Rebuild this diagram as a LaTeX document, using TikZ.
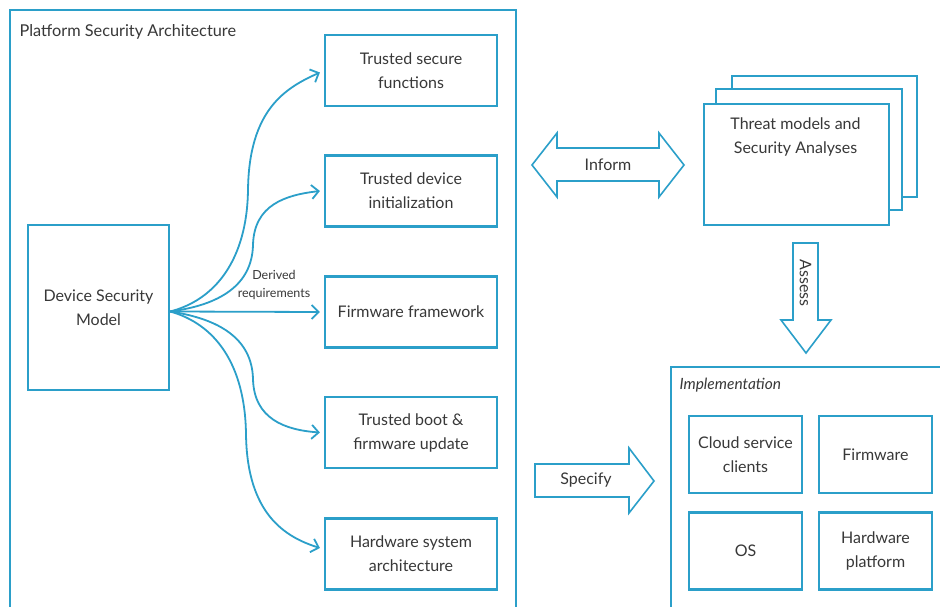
\documentclass[tikz,border=0pt]{standalone}
\usepackage{fontspec}
\setmainfont{Lato}
\usetikzlibrary{arrows.meta}
\definecolor{psablue}{HTML}{2B9FC9}
\definecolor{txtgray}{HTML}{383838}
\tikzset{
  box/.style={draw=psablue, line width=2.2pt, fill=white, text=txtgray, align=center,
    font=\fontsize{16}{24}\selectfont, inner sep=2pt},
  rbox/.style={box, minimum width=172pt, minimum height=71pt},
  ibox/.style={box, minimum width=113pt, minimum height=77pt},
  frame/.style={draw=psablue, line width=2.2pt},
  blockarrow/.style={draw=psablue, line width=1.6pt, fill=white, line join=miter},
  arr/.style={draw=psablue, line width=1.8pt, -{Straight Barb[length=7pt,width=14pt,line width=1.8pt]}},
  lbl/.style={text=txtgray, font=\fontsize{16}{24}\selectfont, align=center},
}
\begin{document}
\begin{tikzpicture}[x=1pt,y=-1pt]
\clip (0,0) rectangle (940,607);
\fill[white] (0,0) rectangle (940,607);
% Platform Security Architecture frame
\draw[frame] (10,10) rectangle (516,625);
\node[lbl, anchor=west, font=\fontsize{16.3}{20}\selectfont] (psatitle) at (16,32) {Platform Security Architecture};
% Device Security Model
\node[box, minimum width=141pt, minimum height=165pt] (dsm) at (98.5,307.5) {Device Security\\Model};
% Right-hand boxes
\node[rbox] (tsf) at (411,70.5) {Trusted secure\\functions};
\node[rbox] (tdi) at (411,191) {Trusted device\\initialization};
\node[rbox] (ffw) at (411,312) {Firmware framework};
\node[rbox] (tbf) at (411,432.5) {Trusted boot \&\\firmware update};
\node[rbox] (hsa) at (411,554) {Hardware system\\architecture};
% Arrows
\coordinate (src) at ([yshift=-4pt]dsm.east);
\draw[arr] (src) .. controls (215,300) and (247,260) .. (248,190)
  .. controls (249,110) and (285,88) .. ([xshift=-4pt,yshift=-2pt]tsf.west);
\draw[arr] (src) .. controls (220,305) and (252,285) .. (253,245)
  .. controls (254,205) and (285,195) .. ([xshift=-4pt]tdi.west);
\draw[arr] (src) -- ([xshift=-4pt]ffw.west);
\draw[arr] (src) .. controls (220,319) and (252,339) .. (253,379)
  .. controls (254,419) and (285,430) .. ([xshift=-4pt]tbf.west);
\draw[arr] (src) .. controls (215,324) and (245,364) .. (246,434)
  .. controls (247,514) and (285,537) .. ([xshift=-4pt,yshift=6pt]hsa.west);
\node[lbl, font=\fontsize{12.5}{18}\selectfont] (derived) at (274,285) {Derived\\requirements};
% Threat models stack
\draw[frame, fill=white] (732,76) rectangle (917,197);
\draw[frame, fill=white] (716,89) rectangle (902,210);
\node[box, minimum width=185pt, minimum height=121pt, anchor=north west] (tm) at (703,103) {};
\node[lbl] (tmtext) at (795.5,137) {Threat models and\\Security Analyses};
% Inform double arrow
\draw[blockarrow] (532,165) -- (557,133) -- (557,148) -- (659,148) -- (659,133) -- (684,165)
  -- (659,197) -- (659,181) -- (557,181) -- (557,197) -- cycle;
\node[lbl] (inform) at (608,165) {Inform};
% Assess arrow
\draw[blockarrow] (793,243) -- (818,243) -- (818,320) -- (831,320) -- (806,353) -- (781,320) -- (793,320) -- cycle;
\node[lbl, rotate=-90] (assess) at (805.5,283) {Assess};
% Specify arrow
\draw[blockarrow] (535,464) -- (629,464) -- (629,448) -- (654,481) -- (629,513) -- (629,497) -- (535,497) -- cycle;
\node[lbl] (specify) at (586,480) {Specify};
% Implementation frame
\draw[frame] (671,367) rectangle (950,625);
\node[lbl, anchor=west, font=\fontsize{15.5}{20}\itshape] (impl) at (676,385) {Implementation};
\node[ibox] (csc) at (745.5,454.5) {Cloud service\\clients};
\node[ibox] (fw) at (875.5,454.5) {Firmware};
\node[ibox] (os) at (745.5,551) {OS};
\node[ibox] (hwp) at (875.5,551) {Hardware\\platform};
\end{tikzpicture}
\end{document}
